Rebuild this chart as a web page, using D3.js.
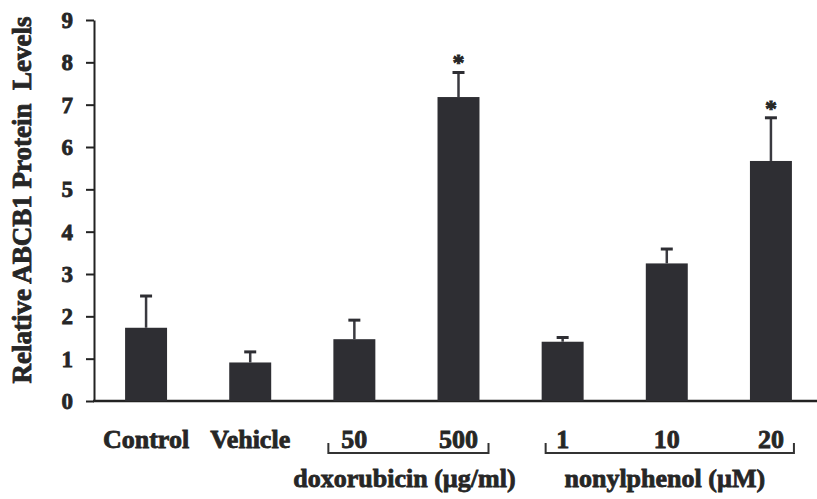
<!DOCTYPE html>
<html>
<head>
<meta charset="utf-8">
<script src="https://cdn.jsdelivr.net/npm/d3@7"></script>
<style>
  body { margin: 0; background: #fff; }
  svg { display: block; font-family: "Liberation Serif", "Times New Roman", serif; font-weight: bold; }
  .lbl { fill: #262626; stroke: #262626; stroke-width: 0.8px; }
</style>
</head>
<body>
<div id="chart"></div>
<script>
// groups along x axis
const categories = ["Control", "Vehicle", "50", "500", "1", "10", "20"];
const means = [1.73, 0.91, 1.46, 7.18, 1.40, 3.25, 5.67];
const errors = [0.75, 0.25, 0.45, 0.58, 0.10, 0.34, 1.02];
const significant = ["500", "20"];
const yTicks = [0, 1, 2, 3, 4, 5, 6, 7, 8, 9];
const treatments = [
  { name: "doxorubicin (µg/ml)", from: "50", to: "500" },
  { name: "nonylphenol (µM)", from: "1", to: "20" }
];

const width = 817, height = 499;
const barColor = "#2e2e33";

const svg = d3.select("#chart").append("svg")
  .attr("width", width)
  .attr("height", height);

const x = d3.scaleBand()
  .domain(categories)
  .range([94, 823])
  .paddingInner(0.597)
  .paddingOuter(0.2985);

const y = d3.scaleLinear()
  .domain([0, 9])
  .range([401, 20]);

// y axis
const yAxis = svg.append("g")
  .attr("transform", "translate(94,0)")
  .call(d3.axisLeft(y).tickValues(yTicks).tickSize(8).tickSizeOuter(0).tickPadding(13));

yAxis.select(".domain").attr("stroke", "#222").attr("stroke-width", 2);
yAxis.selectAll(".tick line").attr("stroke", "#222").attr("stroke-width", 2);
yAxis.selectAll(".tick text")
  .attr("class", "lbl")
  .style("font-size", "23px")
  .style("font-family", "Liberation Serif, serif")
  .style("font-weight", "bold");

// baseline
svg.append("line")
  .attr("x1", 93).attr("x2", width)
  .attr("y1", y(0)).attr("y2", y(0))
  .attr("stroke", "#222").attr("stroke-width", 2.5);

const data = categories.map((c, i) => ({ cat: c, mean: means[i], err: errors[i] }));

// bars
svg.append("g")
  .selectAll("rect")
  .data(data)
  .join("rect")
  .attr("x", d => x(d.cat))
  .attr("y", d => y(d.mean))
  .attr("width", x.bandwidth())
  .attr("height", d => y(0) - y(d.mean))
  .attr("fill", barColor);

// error bars
const eb = svg.append("g").selectAll("g").data(data).join("g");
eb.append("line")
  .attr("x1", d => x(d.cat) + x.bandwidth() / 2)
  .attr("x2", d => x(d.cat) + x.bandwidth() / 2)
  .attr("y1", d => y(d.mean))
  .attr("y2", d => y(d.mean + d.err))
  .attr("stroke", "#3a3a40").attr("stroke-width", 2.5);
eb.append("line")
  .attr("x1", d => x(d.cat) + x.bandwidth() / 2 - 6)
  .attr("x2", d => x(d.cat) + x.bandwidth() / 2 + 6)
  .attr("y1", d => y(d.mean + d.err))
  .attr("y2", d => y(d.mean + d.err))
  .attr("stroke", "#2e2e33").attr("stroke-width", 3);

// significance marks
svg.append("g")
  .selectAll("text")
  .data(data.filter(d => significant.includes(d.cat)))
  .join("text")
  .attr("class", "lbl")
  .attr("x", d => x(d.cat) + x.bandwidth() / 2)
  .attr("y", d => y(d.mean + d.err) - 2)
  .attr("text-anchor", "middle")
  .style("font-size", "24px")
  .text("*");

// category labels
svg.append("g")
  .selectAll("text")
  .data(categories)
  .join("text")
  .attr("class", "lbl")
  .attr("x", d => x(d) + x.bandwidth() / 2)
  .attr("y", 448)
  .attr("text-anchor", "middle")
  .style("font-size", "26px")
  .text(d => d);

// treatment brackets
const pad = { "doxorubicin (µg/ml)": [26, 30], "nonylphenol (µM)": [17, 23] };
treatments.forEach(t => {
  const cx0 = x(t.from) + x.bandwidth() / 2;
  const cx1 = x(t.to) + x.bandwidth() / 2;
  const [l, r] = pad[t.name];
  const x0 = cx0 - l, x1 = cx1 + r;
  svg.append("path")
    .attr("d", `M${x0},443 V453 H${x1} V443`)
    .attr("fill", "none")
    .attr("stroke", "#333")
    .attr("stroke-width", 2);
  svg.append("text")
    .attr("class", "lbl")
    .attr("x", (cx0 + cx1) / 2 - 2)
    .attr("y", 487)
    .attr("text-anchor", "middle")
    .style("font-size", "26px")
    .text(t.name);
});

// y axis title
svg.append("text")
  .attr("class", "lbl")
  .attr("transform", "translate(31,200) rotate(-90)")
  .attr("text-anchor", "middle")
  .style("font-size", "27px")
  .style("white-space", "pre")
  .text("Relative ABCB1 Protein  Levels");
</script>
</body>
</html>
